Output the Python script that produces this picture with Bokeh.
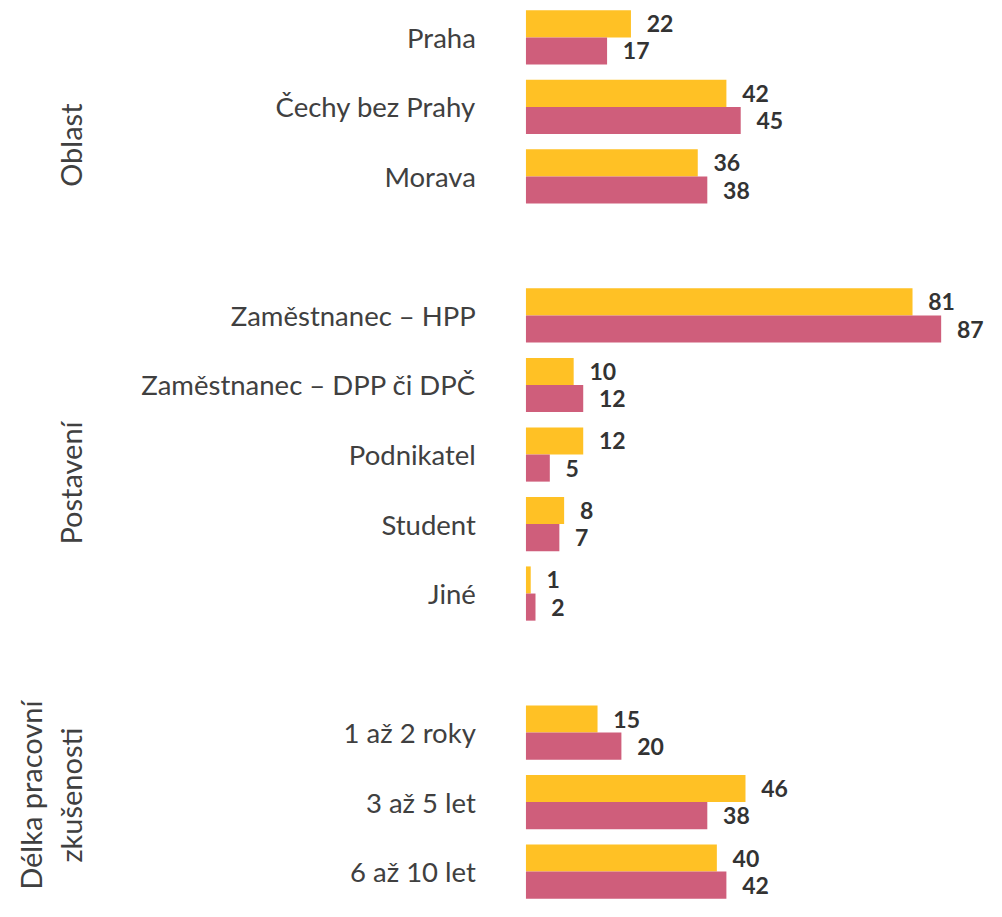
from bokeh.plotting import figure
from bokeh.models import Range1d, ColumnDataSource
from bokeh.core.properties import value
from bokeh.embed import file_html
from bokeh.resources import INLINE
import math

# ---- data ----
groups = ["Oblast", "Postavení", "Délka pracovní\nzkušenosti"]
group_categories = [
    ["Praha", "Čechy bez Prahy", "Morava"],
    ["Zaměstnanec – HPP", "Zaměstnanec – DPP či DPČ", "Podnikatel", "Student", "Jiné"],
    ["1 až 2 roky", "3 až 5 let", "6 až 10 let"],
]
series_a = [22, 42, 36, 81, 10, 12, 8, 1, 15, 46, 40]
series_b = [17, 45, 38, 87, 12, 5, 7, 2, 20, 38, 42]

# ---- styles / layout ----
COL_A = "#FFC125"
COL_B = "#CF5E7B"
FONT = "Lato"
group_label_shift = [0.55, 0.41, -0.1]

# ---- slot layout (one empty slot between groups) ----
cats, slots, group_centers = [], [], []
s = 0
for gi, cl in enumerate(group_categories):
    start = s
    for c in cl:
        cats.append(c)
        slots.append(s)
        s += 1
    group_centers.append((start + s - 1) / 2)
    s += 1

BH = 0.39
src = ColumnDataSource(dict(
    cat=cats, slot=slots, a=series_a, b=series_b,
    ya=[y - BH / 2 for y in slots], yb=[y + BH / 2 for y in slots],
    la=[str(v) for v in series_a], lb=[str(v) for v in series_b],
    xa=[v + 3.3 for v in series_a], xb=[v + 3.3 for v in series_b],
))

p = figure(width=986, height=901, output_backend="svg", toolbar_location=None,
           x_range=Range1d(-110.1, 96.5), y_range=Range1d(12.43, -0.531),
           min_border=0)
p.axis.visible = False
p.grid.visible = False
p.outline_line_color = None

p.hbar(y="ya", right="a", left=0, height=BH, source=src, fill_color=COL_A, line_color=None)
p.hbar(y="yb", right="b", left=0, height=BH, source=src, fill_color=COL_B, line_color=None)

for xcol, ycol, lcol in (("xa", "ya", "la"), ("xb", "yb", "lb")):
    p.text(x=xcol, y=ycol, text=lcol, source=src, text_font=value(FONT),
           text_font_style="bold", text_font_size="23px", text_color="#333333",
           text_align="left", text_baseline="middle")

p.text(x=-10.5, y="slot", text="cat", source=src, text_font=value(FONT),
       text_font_size="27.5px", text_color="#404040",
       text_align="right", text_baseline="middle")

# group labels, rotated
gx, gy, gt = [], [], []
for g, c, sh in zip(groups, group_centers, group_label_shift):
    lines = g.split("\n")
    n = len(lines)
    for i, ln in enumerate(lines):
        px = 71 - (n - 1 - i) * 41
        gx.append((px - 534) / 4.85)
        gy.append(c + sh)
        gt.append(ln)
p.text(x=gx, y=gy, text=gt, angle=math.pi / 2, text_font=value(FONT),
       text_font_size="29px", text_color="#404040",
       text_align="center", text_baseline="middle")

open("out.html", "w").write(file_html(p, INLINE))
